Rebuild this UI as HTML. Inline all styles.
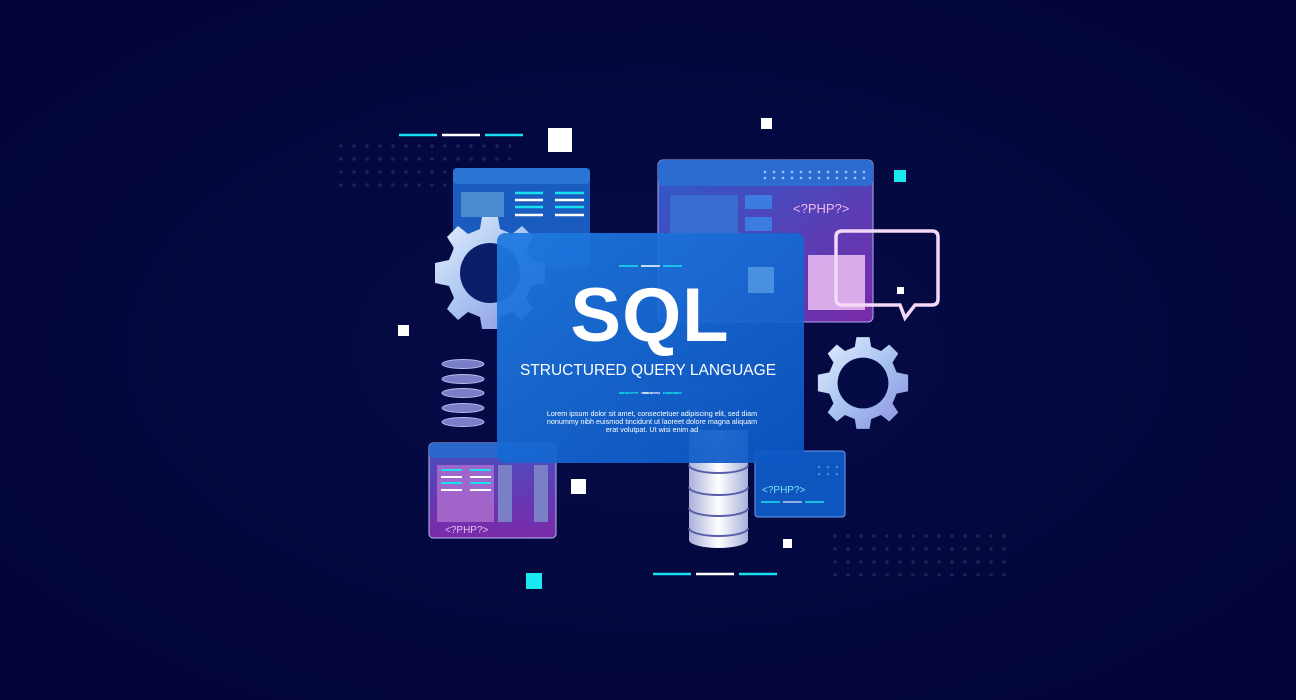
<!DOCTYPE html>
<html><head><meta charset="utf-8"><style>
html,body{margin:0;padding:0;background:#03063a;}
svg{display:block}
text{font-family:"Liberation Sans",sans-serif;}
</style></head><body>
<svg width="1296" height="700" viewBox="0 0 1296 700" xmlns="http://www.w3.org/2000/svg">
<defs>
<radialGradient id="bg" cx="50%" cy="50%" r="60%"><stop offset="0" stop-color="#060c48"/><stop offset="1" stop-color="#03053a"/></radialGradient>
<pattern id="dots" width="13" height="13" patternUnits="userSpaceOnUse"><circle cx="3" cy="3" r="1.8" fill="#1c2454"/></pattern>
<linearGradient id="main" x1="0" y1="0" x2="1" y2="1"><stop offset="0" stop-color="#1f7ae0" stop-opacity=".93"/><stop offset="1" stop-color="#0c56c4" stop-opacity=".93"/></linearGradient>
<linearGradient id="purp" x1="0" y1="0" x2="1" y2="1"><stop offset="0" stop-color="#2a5cc8"/><stop offset="1" stop-color="#7a2aa8"/></linearGradient>
<linearGradient id="purp2" x1="0" y1="0" x2="0" y2="1"><stop offset="0" stop-color="#4a4ec0"/><stop offset="1" stop-color="#7a2aa8"/></linearGradient>
<linearGradient id="gear" x1="0" y1="0" x2="1" y2="1"><stop offset="0" stop-color="#e8f0ff"/><stop offset=".5" stop-color="#a8c4f0"/><stop offset="1" stop-color="#8a8ee0"/></linearGradient>
<linearGradient id="cyl" x1="0" y1="0" x2="1" y2="0"><stop offset="0" stop-color="#a9b0da"/><stop offset=".5" stop-color="#ffffff"/><stop offset="1" stop-color="#a9b0da"/></linearGradient>
<filter id="glow"><feGaussianBlur stdDeviation="3"/></filter>
</defs>
<rect width="1296" height="700" fill="url(#bg)"/>
<rect x="339" y="143" width="172" height="48" fill="url(#dots)"/>
<rect x="831" y="528" width="176" height="48" fill="url(#dots)"/>
<g stroke-width="2.5"><line x1="399" y1="135" x2="437" y2="135" stroke="#19e0f0"/><line x1="442" y1="135" x2="480" y2="135" stroke="#fff"/><line x1="485" y1="135" x2="523" y2="135" stroke="#19e0f0"/>
<line x1="653" y1="574" x2="691" y2="574" stroke="#19e0f0"/><line x1="696" y1="574" x2="734" y2="574" stroke="#fff"/><line x1="739" y1="574" x2="777" y2="574" stroke="#19e0f0"/></g>
<rect x="548" y="128" width="24" height="24" fill="#fff"/>
<rect x="761" y="118" width="11" height="11" fill="#fff"/>
<rect x="894" y="170" width="12" height="12" fill="#19e8f0"/>
<rect x="398" y="325" width="11" height="11" fill="#fff"/>
<rect x="571" y="479" width="15" height="15" fill="#fff"/>
<rect x="783" y="539" width="9" height="9" fill="#fff"/>
<rect x="526" y="573" width="16" height="16" fill="#19e8f0"/>
<rect x="453" y="168" width="137" height="100" rx="4" fill="#1a5bbf"/>
<rect x="453" y="168" width="137" height="16" rx="4" fill="#2a74d4"/>
<rect x="461" y="192" width="43" height="25" fill="#4a8ad0"/>
<g stroke-width="2.5"><line x1="515" y1="193" x2="543" y2="193" stroke="#19e0f0"/><line x1="515" y1="200" x2="543" y2="200" stroke="#fff"/><line x1="515" y1="207" x2="543" y2="207" stroke="#19e0f0"/><line x1="515" y1="215" x2="543" y2="215" stroke="#fff"/>
<line x1="555" y1="193" x2="584" y2="193" stroke="#19e0f0"/><line x1="555" y1="200" x2="584" y2="200" stroke="#fff"/><line x1="555" y1="207" x2="584" y2="207" stroke="#19e0f0"/><line x1="555" y1="215" x2="584" y2="215" stroke="#fff"/></g>
<rect x="658" y="160" width="215" height="162" rx="5" fill="url(#purp)" stroke="#b0a8f0" stroke-width="1"/>
<rect x="658" y="160" width="215" height="26" rx="5" fill="#2c6bd0"/>
<g fill="#9ac4ff"><circle cx="765" cy="172" r="1.3"/><circle cx="774" cy="172" r="1.3"/><circle cx="783" cy="172" r="1.3"/><circle cx="792" cy="172" r="1.3"/><circle cx="801" cy="172" r="1.3"/><circle cx="810" cy="172" r="1.3"/><circle cx="819" cy="172" r="1.3"/><circle cx="828" cy="172" r="1.3"/><circle cx="837" cy="172" r="1.3"/><circle cx="846" cy="172" r="1.3"/><circle cx="855" cy="172" r="1.3"/><circle cx="864" cy="172" r="1.3"/>
<circle cx="765" cy="178" r="1.3"/><circle cx="774" cy="178" r="1.3"/><circle cx="783" cy="178" r="1.3"/><circle cx="792" cy="178" r="1.3"/><circle cx="801" cy="178" r="1.3"/><circle cx="810" cy="178" r="1.3"/><circle cx="819" cy="178" r="1.3"/><circle cx="828" cy="178" r="1.3"/><circle cx="837" cy="178" r="1.3"/><circle cx="846" cy="178" r="1.3"/><circle cx="855" cy="178" r="1.3"/><circle cx="864" cy="178" r="1.3"/></g>
<rect x="670" y="195" width="68" height="40" fill="#3a6cd0"/>
<rect x="745" y="195" width="27" height="14" fill="#3a7ce0"/>
<rect x="745" y="217" width="27" height="14" fill="#3a7ce0"/>
<text x="793" y="213" font-size="13" fill="#f0b8f0">&lt;?PHP?&gt;</text>
<rect x="808" y="255" width="57" height="55" fill="#e6b8f0" opacity=".9"/>
<path d="M842 231 H932 Q938 231 938 237 V299 Q938 305 932 305 H915 L905 318 L900 305 H842 Q836 305 836 299 V237 Q836 231 842 231 Z" fill="none" stroke="#f4d8f8" stroke-width="3.5"/>
<rect x="897" y="287" width="7" height="7" fill="#fff"/>
<g transform="translate(490,273)">
<path fill="url(#gear)" d="M-8,-56 L8,-56 L10,-44 L22,-39 L32,-47 L43,-36 L36,-25 L41,-13 L55,-10 L55,10 L41,13 L36,25 L43,36 L32,47 L22,39 L10,44 L8,56 L-8,56 L-10,44 L-22,39 L-32,47 L-43,36 L-36,25 L-41,13 L-55,10 L-55,-10 L-41,-13 L-36,-25 L-43,-36 L-32,-47 L-22,-39 L-10,-44 Z"/>
<circle r="30" fill="#0a1e6a"/>
</g>
<g transform="translate(863,383) scale(0.82)">
<path fill="url(#gear)" d="M-8,-56 L8,-56 L10,-44 L22,-39 L32,-47 L43,-36 L36,-25 L41,-13 L55,-10 L55,10 L41,13 L36,25 L43,36 L32,47 L22,39 L10,44 L8,56 L-8,56 L-10,44 L-22,39 L-32,47 L-43,36 L-36,25 L-41,13 L-55,10 L-55,-10 L-41,-13 L-36,-25 L-43,-36 L-32,-47 L-22,-39 L-10,-44 Z"/>
<circle r="31" fill="#050b45"/>
</g>
<g fill="#7a7ec8" stroke="#b8bcf0" stroke-width="1"><ellipse cx="463" cy="364" rx="21" ry="4.5"/><ellipse cx="463" cy="379" rx="21" ry="4.5"/><ellipse cx="463" cy="393" rx="21" ry="4.5"/><ellipse cx="463" cy="408" rx="21" ry="4.5"/><ellipse cx="463" cy="422" rx="21" ry="4.5"/></g>
<rect x="429" y="443" width="127" height="95" rx="4" fill="url(#purp2)" stroke="#b0c0f0" stroke-width="1"/>
<rect x="429" y="443" width="127" height="15" rx="4" fill="#2a68cc"/>
<rect x="437" y="465" width="57" height="57" fill="#b070d0" opacity=".8"/>
<rect x="498" y="465" width="14" height="57" fill="#7a80c8"/>
<rect x="534" y="465" width="14" height="57" fill="#7a80c8"/>
<g stroke-width="2"><line x1="441" y1="470" x2="462" y2="470" stroke="#19e0f0"/><line x1="441" y1="477" x2="462" y2="477" stroke="#fff"/><line x1="441" y1="483" x2="462" y2="483" stroke="#19e0f0"/><line x1="441" y1="490" x2="462" y2="490" stroke="#fff"/>
<line x1="470" y1="470" x2="491" y2="470" stroke="#19e0f0"/><line x1="470" y1="477" x2="491" y2="477" stroke="#fff"/><line x1="470" y1="483" x2="491" y2="483" stroke="#19e0f0"/><line x1="470" y1="490" x2="491" y2="490" stroke="#fff"/></g>
<text x="445" y="533" font-size="10" fill="#e0c0f8">&lt;?PHP?&gt;</text>
<path d="M689 430 V540 A29.5 8 0 0 0 748 540 V430 Z" fill="url(#cyl)"/>
<g fill="none" stroke="#5a5ea8" stroke-width="2"><path d="M689 465 A29.5 8 0 0 0 748 465"/><path d="M689 487 A29.5 8 0 0 0 748 487"/><path d="M689 508 A29.5 8 0 0 0 748 508"/><path d="M689 528 A29.5 8 0 0 0 748 528"/></g>
<rect x="755" y="451" width="90" height="66" rx="3" fill="#0e56be" stroke="#6aa0f0" stroke-width="1"/>
<g fill="#3a8ae8"><circle cx="819" cy="467" r="1.3"/><circle cx="828" cy="467" r="1.3"/><circle cx="837" cy="467" r="1.3"/><circle cx="819" cy="474" r="1.3"/><circle cx="828" cy="474" r="1.3"/><circle cx="837" cy="474" r="1.3"/></g>
<text x="762" y="493" font-size="10" fill="#7ae0ff">&lt;?PHP?&gt;</text>
<g stroke-width="1.5"><line x1="761" y1="502" x2="780" y2="502" stroke="#19e0f0"/><line x1="783" y1="502" x2="802" y2="502" stroke="#c0c8f0"/><line x1="805" y1="502" x2="824" y2="502" stroke="#19e0f0"/></g>
<rect x="497" y="233" width="307" height="230" rx="8" fill="url(#main)"/>
<line x1="510" y1="233" x2="790" y2="233" stroke="#a0d8ff" stroke-width="2" filter="url(#glow)"/>
<line x1="520" y1="463" x2="780" y2="463" stroke="#40c8ff" stroke-width="3" filter="url(#glow)"/>
<rect x="748" y="267" width="26" height="26" fill="#4a90e0"/>
<g stroke-width="1.5"><line x1="619" y1="266" x2="638" y2="266" stroke="#19e0f0"/><line x1="641" y1="266" x2="660" y2="266" stroke="#fff"/><line x1="663" y1="266" x2="682" y2="266" stroke="#19e0f0"/>
<line x1="619" y1="393" x2="638" y2="393" stroke="#19e0f0"/><line x1="641" y1="393" x2="660" y2="393" stroke="#fff"/><line x1="663" y1="393" x2="682" y2="393" stroke="#19e0f0"/></g>
<text x="650" y="341" font-size="76" font-weight="bold" fill="#fff" text-anchor="middle" letter-spacing="1">SQL</text>
<text x="648" y="375" font-size="15.5" fill="#fff" text-anchor="middle">STRUCTURED QUERY LANGUAGE</text>
<text x="648" y="394" font-size="15" fill="#1a62c8" text-anchor="middle" opacity=".5">SOFTWARE AS A SERVICE</text>
<g font-size="7.2" fill="#fff" text-anchor="middle"><text x="652" y="416">Lorem ipsum dolor sit amet, consectetuer adipiscing elit, sed diam</text><text x="652" y="424">nonummy nibh euismod tincidunt ut laoreet dolore magna aliquam</text><text x="652" y="432">erat volutpat. Ut wisi enim ad</text></g>
</svg>
</body></html>
